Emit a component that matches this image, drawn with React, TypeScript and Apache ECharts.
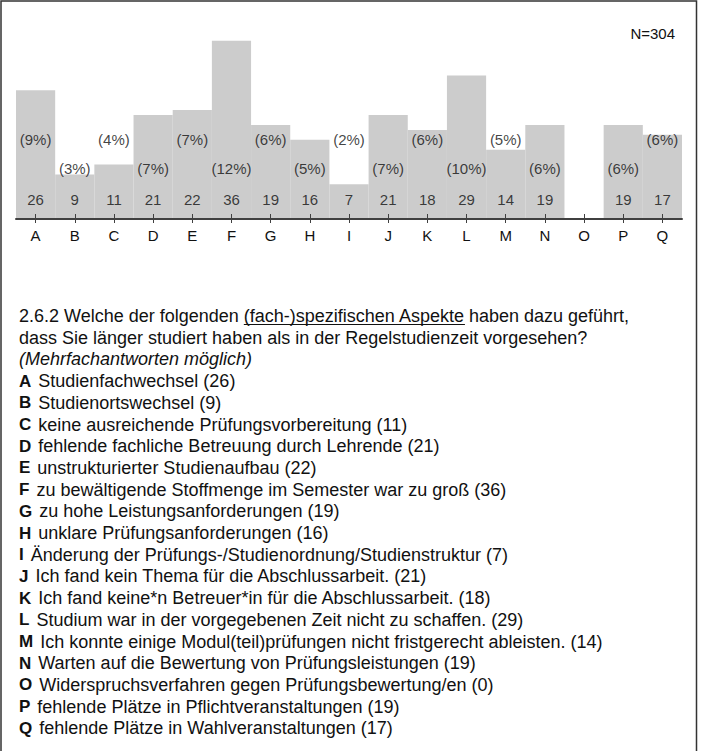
import React, { useEffect, useRef } from 'react';
import * as echarts from 'echarts';

const categories = ['A', 'B', 'C', 'D', 'E', 'F', 'G', 'H', 'I', 'J', 'K', 'L', 'M', 'N', 'O', 'P', 'Q'];
const counts = [26, 9, 11, 21, 22, 36, 19, 16, 7, 21, 18, 29, 14, 19, 0, 19, 17];
const percents = [9, 3, 4, 7, 7, 12, 6, 5, 2, 7, 6, 10, 5, 6, 0, 6, 6];
const sampleLabel = 'N=304';
const questionPrefix = '2.6.2 Welche der folgenden ';
const questionUnderlined = '(fach-)spezifischen Aspekte';
const questionRest = ' haben dazu geführt,';
const questionLine2 = 'dass Sie länger studiert haben als in der Regelstudienzeit vorgesehen?';
const questionNote = '(Mehrfachantworten möglich)';
const answerTexts = [
  'Studienfachwechsel',
  'Studienortswechsel',
  'keine ausreichende Prüfungsvorbereitung',
  'fehlende fachliche Betreuung durch Lehrende',
  'unstrukturierter Studienaufbau',
  'zu bewältigende Stoffmenge im Semester war zu groß',
  'zu hohe Leistungsanforderungen',
  'unklare Prüfungsanforderungen',
  'Änderung der Prüfungs-/Studienordnung/Studienstruktur',
  'Ich fand kein Thema für die Abschlussarbeit.',
  'Ich fand keine*n Betreuer*in für die Abschlussarbeit.',
  'Studium war in der vorgegebenen Zeit nicht zu schaffen.',
  'Ich konnte einige Modul(teil)prüfungen nicht fristgerecht ableisten.',
  'Warten auf die Bewertung von Prüfungsleistungen',
  'Widerspruchsverfahren gegen Prüfungsbewertung/en',
  'fehlende Plätze in Pflichtveranstaltungen',
  'fehlende Plätze in Wahlveranstaltungen',
];

const FONT = "'Liberation Sans', Arial, sans-serif";
const TEXT_SIZE = 18;
const LABEL_SIZE = 15;

export default function App() {
  const ref = useRef<HTMLDivElement>(null);
  useEffect(() => {
    if (!ref.current) return;
    const chart = echarts.init(ref.current, undefined, { renderer: 'svg' });

    const canvas = document.createElement('canvas');
    const ctx = canvas.getContext('2d')!;
    ctx.font = `${TEXT_SIZE}px ${FONT}`;
    const textX = 19;
    const preW = ctx.measureText(questionPrefix).width;
    const ulW = ctx.measureText(questionUnderlined).width;

    const upperLevel = 16;
    const lowerLevel = 10.3;
    const countLevel = 3.85;

    const upperData: any[] = [];
    const lowerData: any[] = [];
    const countData: any[] = [];
    categories.forEach((c, i) => {
      if (counts[i] > 0) {
        countData.push({ value: [c, countLevel], label: { formatter: String(counts[i]) } });
        const d = { value: [c, i % 2 === 0 ? upperLevel : lowerLevel], label: { formatter: `(${percents[i]}%)` } };
        if (i % 2 === 0) upperData.push(d);
        else lowerData.push(d);
      }
    });

    const labelSeries = (data: any[]) => ({
      type: 'scatter',
      data,
      symbol: 'rect',
      symbolSize: 1,
      itemStyle: { color: 'rgba(0,0,0,0)' },
      silent: true,
      z: 5,
      label: {
        show: true,
        position: 'inside',
        color: '#111',
        fontSize: LABEL_SIZE,
        fontFamily: FONT,
      },
    });

    const lineY0 = 316;
    const step = 21.7;
    const graphics: any[] = [
      {
        type: 'rect',
        shape: { x: 1, y: 1, width: 695.5, height: 800 },
        style: { fill: 'none', stroke: '#333', lineWidth: 1.5 },
        silent: true,
      },
      {
        type: 'text',
        x: 675,
        y: 33,
        style: { text: sampleLabel, fontSize: LABEL_SIZE, fontFamily: FONT, fill: '#111', align: 'right', verticalAlign: 'middle' },
      },
      {
        type: 'text',
        x: textX,
        y: lineY0,
        style: { text: questionPrefix + questionUnderlined + questionRest, fontSize: TEXT_SIZE, fontFamily: FONT, fill: '#111', verticalAlign: 'middle' },
      },
      {
        type: 'line',
        shape: { x1: textX + preW, y1: lineY0 + 8.5, x2: textX + preW + ulW, y2: lineY0 + 8.5 },
        style: { stroke: '#111', lineWidth: 1 },
      },
      {
        type: 'text',
        x: textX,
        y: lineY0 + step,
        style: { text: questionLine2, fontSize: TEXT_SIZE, fontFamily: FONT, fill: '#111', verticalAlign: 'middle' },
      },
      {
        type: 'text',
        x: textX,
        y: lineY0 + step * 2,
        style: { text: questionNote, fontSize: TEXT_SIZE, fontStyle: 'italic', fontFamily: FONT, fill: '#111', verticalAlign: 'middle' },
      },
    ];
    categories.forEach((c, i) => {
      graphics.push({
        type: 'text',
        x: textX,
        y: lineY0 + step * (3 + i),
        style: {
          text: `{b|${c}}{t|${answerTexts[i]} (${counts[i]})}`,
          verticalAlign: 'middle',
          rich: {
            b: { fontSize: TEXT_SIZE - 1, fontWeight: 'bold', fontFamily: FONT, fill: '#111', padding: [0, 7, 0, 0] },
            t: { fontSize: TEXT_SIZE, fontFamily: FONT, fill: '#111' },
          },
        },
      });
    });

    chart.setOption({
      animation: false,
      grid: { left: 16, right: 20, top: 21, bottom: 532, containLabel: false },
      xAxis: [
        {
          type: 'category',
          data: categories,
          boundaryGap: true,
          z: 10,
          axisLine: { show: true, lineStyle: { color: '#404040', width: 2 } },
          axisTick: { show: true, alignWithLabel: true, length: 4, lineStyle: { color: '#404040', width: 1 } },
          axisLabel: { show: true, margin: 9, fontSize: LABEL_SIZE, fontFamily: FONT, color: '#111' },
        },
        {
          type: 'category',
          data: categories,
          position: 'bottom',
          boundaryGap: true,
          z: 10,
          axisLine: { show: false },
          axisTick: { show: true, inside: true, alignWithLabel: true, length: 5, lineStyle: { color: '#404040', width: 1 } },
          axisLabel: { show: false },
        },
      ],
      yAxis: { type: 'value', min: 0, max: 40, show: false, splitLine: { show: false } },
      series: [
        {
          type: 'bar',
          data: counts,
          barCategoryGap: 0,
          itemStyle: { color: '#cccccc' },
          silent: true,
        },
        labelSeries(upperData),
        labelSeries(lowerData),
        labelSeries(countData),
      ],
      graphic: graphics,
    });
    return () => chart.dispose();
  }, []);
  return <div ref={ref} style={{ position: 'absolute', left: 0, top: 0, width: 702, height: 751 }} />;
}
